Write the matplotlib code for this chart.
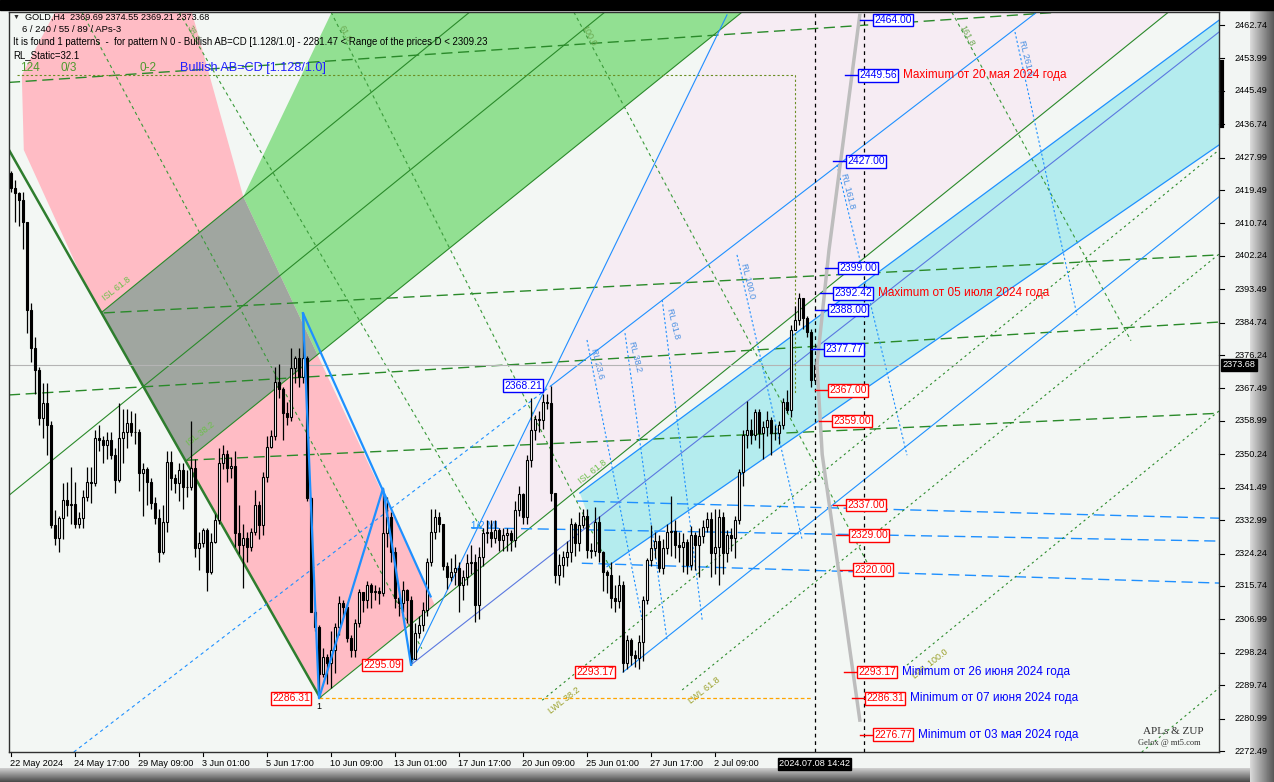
import numpy as np
import matplotlib
matplotlib.use("Agg")
import matplotlib.pyplot as plt
from matplotlib.patches import Polygon, Rectangle
from matplotlib.transforms import blended_transform_factory

plt.rcParams['font.family'] = ['Liberation Sans', 'DejaVu Sans']

# GOLD H4 bars, first bar 22 May 2024 01:00
open0 = 2424.0
close = [2420.0, 2418.8, 2417.0, 2411.0, 2388.0, 2378.0, 2372.3, 2359.7, 2363.6, 2358.0,
         2331.7, 2328.2, 2333.5, 2338.3, 2337.0, 2337.2, 2332.0, 2333.5, 2339.0, 2343.0,
         2342.8, 2354.4, 2354.0, 2352.7, 2354.0, 2350.0, 2343.5, 2354.4, 2356.0, 2358.4,
         2356.0, 2356.2, 2345.3, 2346.5, 2343.0, 2337.4, 2333.5, 2324.7, 2332.6, 2348.3,
         2344.0, 2342.6, 2346.1, 2341.8, 2341.6, 2346.6, 2325.6, 2326.9, 2330.4, 2319.5,
         2327.3, 2333.0, 2347.9, 2350.3, 2346.6, 2347.2, 2329.5, 2326.5, 2328.2, 2326.0,
         2330.0, 2337.0, 2331.7, 2344.4, 2352.2, 2355.0, 2369.3, 2367.3, 2361.0, 2360.0,
         2372.8, 2375.4, 2370.6, 2375.4, 2338.7, 2309.0, 2305.0, 2292.8, 2297.2, 2295.5,
         2299.0, 2305.0, 2311.2, 2310.3, 2302.0, 2299.0, 2306.0, 2314.2, 2312.0, 2316.0,
         2314.2, 2314.5, 2313.8, 2329.5, 2333.9, 2324.7, 2312.5, 2311.2, 2314.7, 2312.0,
         2296.5, 2303.3, 2305.5, 2309.4, 2322.1, 2329.8, 2333.9, 2332.1, 2321.0, 2318.2,
         2319.5, 2320.4, 2316.0, 2318.0, 2321.8, 2322.0, 2310.8, 2323.4, 2329.5, 2330.0,
         2328.2, 2330.4, 2327.8, 2329.0, 2329.6, 2327.8, 2335.6, 2339.8, 2333.9, 2348.8,
         2356.6, 2359.4, 2359.2, 2364.0, 2363.6, 2340.0, 2318.6, 2321.2, 2323.4, 2324.7,
         2332.1, 2326.9, 2331.7, 2334.0, 2325.2, 2325.0, 2332.6, 2324.7, 2319.5, 2318.6,
         2312.5, 2311.7, 2316.0, 2295.5, 2301.6, 2297.6, 2296.8, 2301.0, 2312.0, 2322.6,
         2325.6, 2327.5, 2320.4, 2325.6, 2330.0, 2330.1, 2326.5, 2326.0, 2327.3, 2321.2,
         2329.1, 2326.5, 2328.8, 2331.3, 2333.4, 2324.3, 2326.0, 2333.9, 2324.3, 2329.1,
         2328.2, 2333.0, 2345.7, 2355.3, 2356.6, 2355.3, 2361.4, 2355.7, 2357.5, 2359.2,
         2355.7, 2355.8, 2357.9, 2364.0, 2361.8, 2382.8, 2385.4, 2391.1, 2385.9, 2382.4,
         2369.7, 2373.68]
high = [2424.5, 2422.0, 2419.0, 2419.0, 2411.0, 2390.0, 2381.0, 2373.0, 2369.0, 2369.0,
        2359.0, 2335.6, 2334.0, 2342.6, 2343.0, 2347.0, 2343.0, 2335.0, 2341.0, 2347.0,
        2347.0, 2356.6, 2358.0, 2355.0, 2356.0, 2356.0, 2352.0, 2363.6, 2362.0, 2362.0,
        2361.5, 2361.0, 2357.0, 2348.0, 2347.0, 2344.0, 2339.0, 2336.0, 2337.0, 2351.0,
        2351.0, 2345.0, 2348.0, 2348.0, 2346.0, 2359.0, 2349.0, 2330.0, 2331.0, 2331.0,
        2329.5, 2334.7, 2352.0, 2352.7, 2351.5, 2349.5, 2351.0, 2337.0, 2332.0, 2330.0,
        2331.0, 2341.0, 2338.0, 2345.7, 2355.0, 2356.5, 2373.0, 2374.0, 2368.0, 2364.0,
        2378.0, 2376.0, 2378.0, 2387.2, 2376.0, 2339.0, 2309.5, 2305.5, 2299.5, 2298.0,
        2304.0, 2306.0, 2313.0, 2312.0, 2311.0, 2303.0, 2307.0, 2315.0, 2314.0, 2317.0,
        2316.5, 2316.0, 2315.5, 2341.3, 2339.0, 2335.0, 2326.0, 2313.0, 2317.0, 2315.0,
        2313.0, 2306.0, 2308.0, 2311.5, 2323.0, 2336.0, 2336.0, 2335.0, 2332.0, 2322.0,
        2323.0, 2324.0, 2322.0, 2320.0, 2324.0, 2326.5, 2324.0, 2326.0, 2331.0, 2333.0,
        2333.0, 2333.0, 2331.0, 2331.0, 2331.0, 2330.5, 2338.0, 2342.0, 2340.0, 2350.0,
        2364.9, 2360.5, 2361.5, 2366.0, 2366.0, 2368.21, 2340.0, 2324.0, 2325.0, 2327.5,
        2333.6, 2332.5, 2335.0, 2336.0, 2336.0, 2327.0, 2336.5, 2334.0, 2325.0, 2320.0,
        2322.0, 2316.0, 2318.5, 2317.0, 2303.0, 2302.0, 2299.0, 2303.0, 2313.0, 2323.0,
        2331.6, 2330.0, 2329.0, 2328.0, 2332.0, 2339.2, 2333.0, 2330.0, 2329.5, 2328.0,
        2331.5, 2330.0, 2331.0, 2333.0, 2335.0, 2335.0, 2336.0, 2336.0, 2335.0, 2330.5,
        2331.0, 2334.0, 2346.5, 2356.5, 2364.2, 2359.5, 2362.0, 2362.0, 2359.0, 2361.5,
        2360.0, 2358.0, 2359.0, 2365.0, 2367.0, 2384.0, 2389.0, 2392.42, 2391.0, 2386.5,
        2383.0, 2374.55]
low = [2419.0, 2411.0, 2410.0, 2404.0, 2382.0, 2374.5, 2366.0, 2358.0, 2354.4, 2350.0,
       2331.0, 2326.5, 2324.7, 2328.0, 2334.0, 2332.0, 2331.0, 2331.0, 2331.0, 2338.0,
       2337.5, 2342.0, 2351.0, 2348.0, 2349.0, 2349.0, 2340.0, 2343.0, 2348.0, 2352.0,
       2355.0, 2353.0, 2340.5, 2334.0, 2337.0, 2336.0, 2332.0, 2322.0, 2324.0, 2330.0,
       2341.0, 2340.0, 2338.0, 2336.0, 2339.0, 2341.0, 2323.4, 2320.0, 2326.0, 2314.3,
       2319.0, 2327.0, 2332.0, 2346.5, 2343.0, 2344.0, 2326.0, 2324.0, 2315.1, 2322.0,
       2325.0, 2329.0, 2328.0, 2329.0, 2343.0, 2352.0, 2354.0, 2365.0, 2354.0, 2358.0,
       2359.0, 2369.0, 2368.0, 2369.0, 2338.0, 2309.0, 2304.0, 2286.31, 2292.0, 2290.0,
       2289.0, 2293.0, 2303.0, 2308.0, 2301.0, 2297.0, 2297.0, 2305.0, 2309.0, 2310.0,
       2310.0, 2312.0, 2311.0, 2313.0, 2326.0, 2322.0, 2310.0, 2308.0, 2309.0, 2306.0,
       2295.09, 2298.0, 2302.0, 2304.0, 2308.0, 2321.0, 2328.0, 2330.0, 2320.0, 2315.0,
       2317.0, 2316.0, 2309.0, 2312.0, 2316.0, 2319.0, 2306.4, 2307.0, 2321.0, 2327.0,
       2326.0, 2327.0, 2325.0, 2325.0, 2325.0, 2325.0, 2326.0, 2334.0, 2332.0, 2332.0,
       2347.0, 2354.0, 2356.0, 2357.0, 2362.0, 2338.0, 2316.4, 2316.0, 2318.0, 2321.0,
       2322.0, 2323.5, 2325.0, 2331.0, 2323.0, 2323.0, 2323.5, 2322.0, 2314.5, 2314.0,
       2310.0, 2309.0, 2310.0, 2293.17, 2294.0, 2295.0, 2294.5, 2294.0, 2296.0, 2311.0,
       2321.0, 2323.0, 2319.5, 2319.0, 2324.0, 2323.5, 2323.0, 2322.0, 2319.5, 2319.0,
       2320.0, 2320.0, 2318.0, 2327.0, 2330.0, 2318.0, 2319.0, 2316.0, 2319.0, 2322.0,
       2325.0, 2323.0, 2332.0, 2342.0, 2352.0, 2353.0, 2354.0, 2352.0, 2349.0, 2355.0,
       2350.0, 2354.0, 2353.0, 2357.0, 2361.0, 2360.0, 2383.0, 2384.0, 2383.0, 2381.0,
       2368.0, 2369.21]

time_label_bars = [0, 16, 32, 48, 64, 80, 96, 112, 128, 144, 160, 176]
time_labels = ["22 May 2024", "24 May 17:00", "29 May 09:00", "3 Jun 01:00", "5 Jun 17:00",
               "10 Jun 09:00", "13 Jun 01:00", "17 Jun 17:00", "20 Jun 09:00", "25 Jun 01:00",
               "27 Jun 17:00", "2 Jul 09:00"]
cursor_bar = 192
cursor_label = "2024.07.08 14:42"

price_ticks = [2462.74, 2453.99, 2445.49, 2436.74, 2427.99, 2419.49, 2410.74, 2402.24,
               2393.49, 2384.74, 2376.24, 2367.49, 2358.99, 2350.24, 2341.49, 2332.99,
               2324.24, 2315.74, 2306.99, 2298.24, 2289.74, 2280.99, 2272.49]
current_price = 2373.68

# price levels drawn at the right of the last bar
level_prices = [2464.00, 2449.56, 2427.00, 2399.00, 2392.42, 2388.00, 2377.77,
                2367.00, 2359.00, 2337.00, 2329.00, 2320.00, 2293.17, 2286.31, 2276.77]
level_bars = [215.8, 212.0, 209.0, 207.0, 205.8, 204.5, 203.5,
              204.5, 205.5, 209.0, 209.8, 210.8, 211.8, 213.8, 215.8]
level_colors = ['blue'] * 7 + ['red'] * 8
level_notes = {2449.56: "Maximum от 20 мая 2024 года",
               2392.42: "Maximum от 05 июля 2024 года",
               2293.17: "Minimum от 26 июня 2024 года",
               2286.31: "Minimum от 07 июня 2024 года",
               2276.77: "Minimum от 03 мая 2024 года"}

# pattern points (bar, price)
abcd_bars = [73, 77, 93, 100]
abcd_prices = [2387.2, 2286.31, 2341.3, 2295.09]

TOP = 2466.15
BOT = 2272.23
XR = 302.0

# chart objects as (bar, price) anchors
L1 = [(-0.5, 2430.0), (77.25, 2286.5)]
R = [(36.4, TOP), (105.9, 2310.9)]
ch_B = [(22.6, 2387.4), (114.7, TOP)]
ch_E = [(-0.5, 2339.5), (148.5, TOP)]
ch_A = [(43.7, 2348.5), (182.8, TOP)]
ch_C = [(77.25, 2286.5), (289.4, TOP)]
green_left = [(58.2, 2417.5), (80.2, TOP)]
pink_top = [(11.0, TOP), (45.2, TOP)]
g_dashes = [[(-0.5, 2447.7), (262.7, TOP)],
            [(-0.5, 2365.8), (XR, 2384.9)],
            [(44.0, 2348.7), (XR, 2361.0)],
            [(23.2, 2387.3), (XR, 2402.5)]]
fan_dashes = [[(17.7, TOP), (102.7, 2299.3)],
              [(42.0, TOP), (118.0, 2330.0)],
              [(80.0, TOP), (150.0, 2320.0)],
              [(140.7, TOP), (215.0, 2320.0)],
              [(235.2, TOP), (280.0, 2380.0)]]
fan_labels = ["", "38.2", "61.8", "100.0", "161.8"]
cyan_band = [(142.2, 2340.1), (XR, 2464.0), (XR, 2431.3), (149.0, 2320.8)]
blue_dash_levels = [[(141.5, 2338.0), (XR, 2333.5)],
                    [(115.0, 2331.0), (XR, 2327.5)],
                    [(142.7, 2321.7), (XR, 2316.5)]]
peak_line = [(15.7, BOT), (135.0, 2368.21), (256.5, TOP)]
median_line = [(100.0, 2295.09), (XR, 2460.9)]
lower_tine = [(153.0, 2293.17), (XR, 2417.7)]
rl_lines = [[(144.0, 2380.2), (157.8, 2306.8)],
            [(153.5, 2382.0), (164.0, 2301.6)],
            [(162.8, 2390.7), (172.8, 2306.8)],
            [(181.5, 2402.5), (197.8, 2327.8)],
            [(206.5, 2426.1), (224.0, 2350.0)],
            [(251.0, 2460.9), (266.5, 2386.7)]]
rl_labels = ["RL 23.6", "RL 38.2", "RL 61.8", "RL 100.0", "RL 161.8", "RL 261.8"]
lwl_lines = [[(132.8, 2285.8), (XR, 2430.0)],
             [(167.8, 2288.5), (XR, 2402.7)],
             [(224.0, 2295.0), (XR, 2361.6)],
             [(282.7, BOT), (XR, 2289.0)]]
lwl_labels = ["LWL 38.2", "LWL 61.8", "LWL 100.0", ""]
isl_labels = [("ISL 61.8", 22.5, 2390.0), ("ISL 38.2", 43.5, 2352.0), ("ISL 61.8", 141.5, 2342.0)]
gray_curve_bars = [212.2, 204.5, 201.5, 202.8, 212.2]
gray_curve_prices = [2465.4, 2403.8, 2373.8, 2350.2, 2280.6]


def cross(l1, l2):
    (x1, y1), (x2, y2) = l1[0], l1[-1]
    (x3, y3), (x4, y4) = l2[0], l2[-1]
    m1 = (y2 - y1) / (x2 - x1)
    m2 = (y4 - y3) / (x4 - x3)
    x = (y3 - y1 + m1 * x1 - m2 * x3) / (m1 - m2)
    return (x, y1 + m1 * (x - x1))


def seg(ln, **kw):
    xs, ys = zip(*ln)
    ax.plot(xs, ys, **kw)


fig = plt.figure(figsize=(12.74, 7.82), dpi=100)
fig.patch.set_facecolor('#F2F5F3')

bg = fig.add_axes([0, 0, 1, 1])
bg.add_patch(Rectangle((0, 0), 1274, 10, color='black'))
grad = np.linspace(0.85, 0.35, 24).reshape(1, -1)
bg.imshow(grad, extent=(1250, 1274, 782, 10), cmap='gray', vmin=0, vmax=1, aspect='auto')
grad2 = np.linspace(0.8, 0.3, 14).reshape(-1, 1)
bg.imshow(grad2, extent=(0, 1250, 782, 768), cmap='gray', vmin=0, vmax=1, aspect='auto')
bg.set_xlim(0, 1274)
bg.set_ylim(782, 0)
bg.axis('off')

ax = fig.add_axes([9 / 1274, 30 / 782, 1210 / 1274, 740 / 782])
ax.set_facecolor('#F3F7F4')
ax.set_xlim(-0.5, XR)
ax.set_ylim(BOT, TOP)
ax.set_xticks([])
ax.set_yticks([])
for s in ax.spines.values():
    s.set_color('#303030')
    s.set_linewidth(1)

# filled zones
gBR = cross(ch_B, R)
gAR = cross(ch_A, R)
gBL = cross(ch_B, L1)
gAL = cross(ch_A, L1)
pink = [pink_top[0], pink_top[1], gBR, R[1], L1[1], (18.0, 2396.0), (3.2, 2430.0), (2.7, 2449.6)]
ax.add_patch(Polygon(pink, closed=True, facecolor='#FFBCC5', edgecolor='none', zorder=1))
ax.add_patch(Polygon([gBR, green_left[1], (ch_A[1][0], TOP), gAR], closed=True,
                     facecolor='#92E092', edgecolor='none', zorder=1))
ax.add_patch(Polygon([gBL, gBR, gAR, gAL], closed=True, facecolor='#A0A6A0',
                     edgecolor='none', zorder=1.1))
pc = cross(ch_C, [(abcd_bars[3], abcd_prices[3]), (179.0, TOP)])
ax.add_patch(Polygon([pc, (179.0, TOP), ch_C[1]], closed=True, facecolor='#F6ECF3',
                     edgecolor='none', zorder=0.9))
ax.add_patch(Polygon(cyan_band, closed=True, facecolor='#B4ECEE', edgecolor='none', zorder=1))

# channel lines
for ln in [ch_B, ch_E, ch_A, ch_C]:
    seg(ln, color='#2A8A2A', lw=0.8, zorder=2)
seg(L1, color='#2E7D2E', lw=1.8, zorder=2)
for ln in g_dashes:
    seg(ln, color='#2A8A2A', lw=1.0, dashes=(8, 4), zorder=2)
for ln, lab in zip(fan_dashes, fan_labels):
    seg(ln, color='#3A9A3A', lw=0.8, dashes=(3, 3), zorder=2)
    if lab:
        ax.text(ln[0][0] + 1.5, TOP - 3, lab, color='#6AA84F', fontsize=6.5, rotation=-62,
                ha='left', va='top', zorder=2)
for ln in blue_dash_levels:
    seg(ln, color='#1E90FF', lw=1.0, dashes=(8, 4), zorder=2)
for ln, lab in zip(rl_lines, rl_labels):
    seg(ln, color='#1E90FF', lw=0.8, dashes=(2, 2), zorder=2)
    ax.text(ln[0][0] + 0.6, ln[0][1] - 2, lab, color='#4A90E2', fontsize=6.5, rotation=-76,
            ha='left', va='top', zorder=2)
for ln, lab in zip(lwl_lines, lwl_labels):
    seg(ln, color='#2A8A2A', lw=0.8, dashes=(2, 3), zorder=2)
    if lab:
        ax.text(ln[0][0] + 1, ln[0][1] - 4, lab, color='#9AA02A', fontsize=6.5, rotation=38,
                ha='left', va='bottom', zorder=2)
for lab, xb, p in isl_labels:
    ax.text(xb, p, lab, color='#6CC04A', fontsize=6.5, rotation=38, ha='left', va='bottom', zorder=2)
ax.plot([cyan_band[0][0], cyan_band[1][0]], [cyan_band[0][1], cyan_band[1][1]], color='#1E90FF', lw=0.9, zorder=2)
ax.plot([cyan_band[3][0], cyan_band[2][0]], [cyan_band[3][1], cyan_band[2][1]], color='#1E90FF', lw=0.9, zorder=2)
seg(peak_line[:2], color='#1E90FF', lw=0.8, dashes=(3, 3), zorder=2)
seg(peak_line[1:], color='#1E90FF', lw=0.8, zorder=2)
seg(median_line, color='#5A78E0', lw=0.8, zorder=2)
seg(lower_tine, color='#1E90FF', lw=0.8, zorder=2)
ax.text(115.0, 2331.5, "1/2 ML", color='#1E90FF', fontsize=7, ha='left', va='center', zorder=2)

# current price line
ax.axhline(current_price, color='#B4B4B4', lw=0.8, zorder=2)
# AB=CD box outline
ax.plot([1.5, 196, 196], [2449.6, 2449.6, 2366.0], color='#6B8E23', lw=0.8, dashes=(2, 2), zorder=2)
ax.plot([abcd_bars[1], 200], [abcd_prices[1]] * 2, color='#FFA500', lw=0.9, dashes=(3, 2), zorder=2)

# candles
opens = [open0] + close[:-1]
bars = np.arange(len(close))
ax.vlines(bars, low, high, color='black', lw=0.9, zorder=3)
o = np.array(opens)
c = np.array(close)
bull = c >= o
ax.bar(bars[bull], (c - o)[bull], bottom=o[bull], width=0.7, color='white',
       edgecolor='black', lw=0.8, zorder=4)
ax.bar(bars[~bull], (o - c)[~bull], bottom=c[~bull], width=0.7, color='black',
       edgecolor='black', lw=0.8, zorder=4)

# AB=CD legs
ax.plot(abcd_bars, abcd_prices, color='#1E90FF', lw=1.6, zorder=5)
ax.plot([abcd_bars[0], R[1][0] - 1], [abcd_prices[0], 2313.0], color='#1E90FF', lw=1.6, zorder=5)
ax.plot([abcd_bars[3], 179], [abcd_prices[3], 2465.4], color='#1E90FF', lw=0.8, zorder=2)

# vertical dotted lines
for xb in [201, 213.25]:
    ax.axvline(xb, color='black', lw=0.9, dashes=(3, 3), zorder=5)

# gray curve and level labels
ax.plot(gray_curve_bars, gray_curve_prices, color='#BDBDBD', lw=2.5, zorder=5)
for p, xb, col in zip(level_prices, level_bars, level_colors):
    ax.plot([xb - 3.5, xb], [p, p], color=col, lw=1.0, zorder=6)
    ax.text(xb, p, f"{p:.2f}", color=col, fontsize=7.5, va='center', ha='left', zorder=7,
            bbox=dict(boxstyle='square,pad=0.12', fc='white', ec=col, lw=1.0))
    if p in level_notes:
        ax.text(xb + 11.0, p, level_notes[p], color='red' if col == 'blue' else 'blue',
                fontsize=8.5, va='center', ha='left', zorder=7)

pt_labels = [(2368.21, 132.8, 'blue'), (2295.09, 97.5, 'red'), (2286.31, 74.8, 'red'), (2293.17, 150.8, 'red')]
for p, xb, col in pt_labels:
    ax.text(xb, p, f"{p:.2f}", color=col, fontsize=7.5, va='center', ha='right', zorder=7,
            bbox=dict(boxstyle='square,pad=0.12', fc='white', ec=col, lw=1.0))
ax.text(abcd_bars[1], abcd_prices[1] - 1.0, "1", fontsize=6.5, ha='center', va='top', zorder=7)

# price axis
yx = blended_transform_factory(ax.transAxes, ax.transData)
for p in price_ticks:
    ax.plot([1.0, 1.004], [p, p], transform=yx, color='black', lw=0.8, clip_on=False)
    ax.text(1.013, p, f"{p:.2f}", transform=yx, fontsize=6.6, va='center', ha='left', clip_on=False)
ax.text(1.003, current_price, f"{current_price:.2f}", transform=yx, fontsize=6.6, va='center',
        ha='left', color='white', clip_on=False,
        bbox=dict(boxstyle='square,pad=0.15', fc='black', ec='black'))
ax.plot([1.0025, 1.0025], [2453.0, 2436.2], transform=yx, color='black', lw=3, clip_on=False)

# time axis
xy = blended_transform_factory(ax.transData, ax.transAxes)
for b, t in zip(time_label_bars, time_labels):
    ax.plot([b, b], [0, -0.006], transform=xy, color='black', lw=0.8, clip_on=False)
    ax.text(b - 0.3, -0.01, t, transform=xy, fontsize=6.6, va='top', ha='left', clip_on=False)
ax.text(cursor_bar, -0.01, cursor_label, transform=xy, fontsize=6.6, va='top', ha='left',
        color='white', clip_on=False, bbox=dict(boxstyle='square,pad=0.15', fc='black', ec='black'))

# header texts
fig.text(13 / 1274, 1 - 17 / 782, "▼", fontsize=5, va='center', color='#303030')
fig.text(25 / 1274, 1 - 17 / 782, "GOLD,H4  2369.69 2374.55 2369.21 2373.68", fontsize=6.6, va='center')
fig.text(22 / 1274, 1 - 30 / 782, "6 / 240 / 55 / 89 / APs-3", fontsize=6.8, va='center')
fig.text(13 / 1274, 1 - 42 / 782,
         "It is found 1 patterns  -  for pattern N 0 - Bullish AB=CD [1.128/1.0] - 2281.47 < Range of the prices D < 2309.23",
         fontsize=6.9, va='center')
fig.text(13 / 1274, 1 - 55 / 782, "RL_Static=32.1", fontsize=6.9, va='center')
for t, xp in [("124", 20), ("0/3", 60), ("0-2", 139)]:
    fig.text(xp / 1274, 1 - 68 / 782, t, fontsize=8.5, va='center', color='#4E9A2E')
fig.text(180 / 1274, 1 - 68 / 782, "Bullish AB=CD [1.128/1.0]", fontsize=9.1, va='center', color='#2020FF')
fig.text(1143 / 1274, 1 - 731 / 782, "APLs & ZUP", fontsize=8, va='center', family='Liberation Serif', color='#303030')
fig.text(1138 / 1274, 1 - 743 / 782, "Gelox @ mt5.com", fontsize=6, va='center', family='Liberation Serif', color='#303030')

fig.savefig("out.png", dpi=100, facecolor=fig.get_facecolor())
